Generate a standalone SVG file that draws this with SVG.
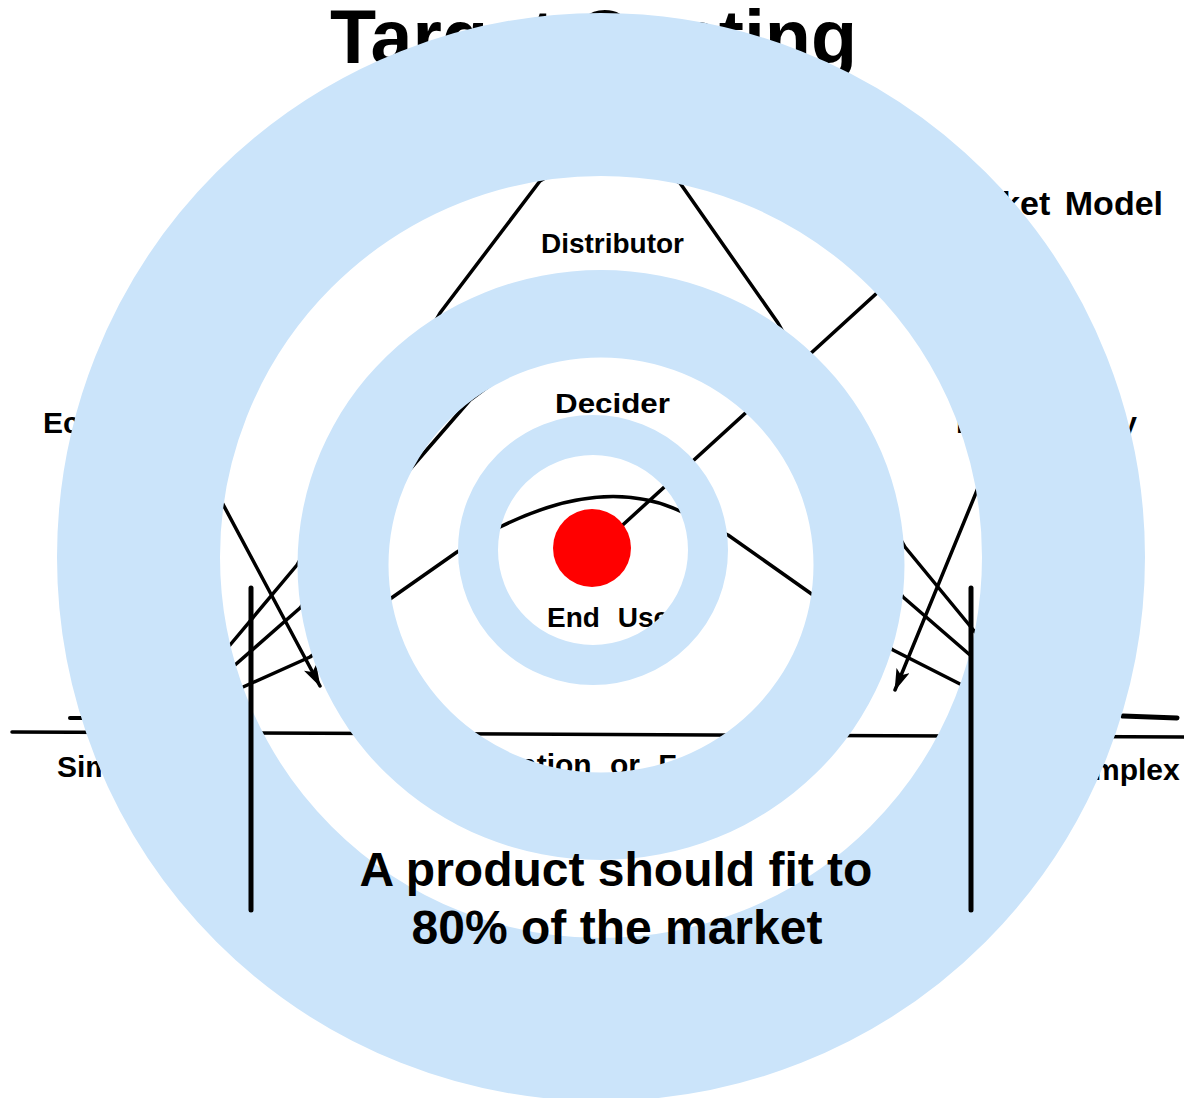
<svg xmlns="http://www.w3.org/2000/svg" width="1184" height="1098" viewBox="0 0 1184 1098">
<defs>
<style>
.sk{fill:none;stroke:#000;stroke-width:3.5;stroke-linecap:round;stroke-linejoin:round}
.lbl{font-family:"Liberation Sans",Arial,sans-serif;font-weight:bold;fill:#000;word-spacing:10px}
.ring{fill:#cbe4fa;fill-rule:evenodd}
.cap{font-family:"Liberation Sans",Arial,sans-serif;font-weight:bold;font-size:48px;fill:#000;text-anchor:middle}
.vline{stroke:#000;stroke-width:5;stroke-linecap:round}
</style>
<marker id="ah" viewBox="0 0 22 14" refX="21" refY="7" markerWidth="22" markerHeight="14" orient="auto" markerUnits="userSpaceOnUse">
<path d="M0,0 L22,7 L0,14 L5,7 Z" fill="#000"/>
</marker>
</defs>
<rect width="1184" height="1098" fill="#fff"/>
<g id="sketch">
<text id="title" x="330" y="63" style="font-family:'Liberation Sans',Arial,sans-serif;font-weight:bold;font-size:75.5px">Target Costing</text>
<g id="curves">
<path class="sk" id="distributor-curve" d="M190,670 L230,645 L297,565 L440,313 L540,181 L610,140 L680,183 L778,323 L905,547 L975,632 L1015,655"/>
<path class="sk" id="decider-curve" d="M195,695 L235,665 L300,608 L392,490 L470,400 L605,300 L748,400 L826,490 L903,597 L970,655 L1008,676"/>
<path class="sk" id="enduser-curve" d="M200,705 L243,687 L310,657 L390,599 L457,552 L500,527 Q605,475 682,512 L728,535 L813,595 L893,650 L962,685 L1000,700"/>
<path class="sk" d="M935,240 L615,532"/>
<path class="sk" d="M146,360 L320,686" marker-end="url(#ah)"/>
<path class="sk" d="M1010,410 L895,690" marker-end="url(#ah)"/>
<path class="sk" d="M12,732 L1184,737"/>
<path class="sk" style="stroke-width:4" d="M70,718 L83,718"/>
<path class="sk" style="stroke-width:5" d="M1123,716 L1177,718"/>
</g>
<g id="labels">
<text class="lbl" x="541" y="253" font-size="28" textLength="143" lengthAdjust="spacingAndGlyphs">Distributor</text>
<text class="lbl" x="555" y="413" font-size="28" textLength="115" lengthAdjust="spacingAndGlyphs">Decider</text>
<text class="lbl" x="547" y="627" font-size="28">End User</text>
<text class="lbl" x="1163" y="215" font-size="34" text-anchor="end" style="word-spacing:5px">Market Model</text>
<text class="lbl" x="43" y="433" font-size="30">Ec</text>
<text class="lbl" x="956" y="433" font-size="30" textLength="181" lengthAdjust="spacing">Luxury</text>
<text class="lbl" x="57" y="777" font-size="30">Simple</text>
<text class="lbl" x="1053" y="780" font-size="30">Complex</text>
<text class="lbl" x="520" y="775" font-size="30">ation or F</text>
</g>
</g>
<g id="rings">
<circle id="outer-ring" cx="601" cy="557" r="462.5" fill="none" stroke="#cbe4fa" stroke-width="163"/>
<path id="middle-ring" class="ring" d="M297.5,565 A303.5,295 0 1 0 904.5,565 A303.5,295 0 1 0 297.5,565 Z M388.5,565 A212.5,207.5 0 1 0 813.5,565 A212.5,207.5 0 1 0 388.5,565 Z"/>
<circle id="inner-ring" cx="593" cy="550" r="115" fill="none" stroke="#cbe4fa" stroke-width="40"/>
</g>
<circle id="bullseye" cx="592" cy="548" r="39" fill="#ff0000"/>
<g id="limits">
<line class="vline" x1="251" y1="588" x2="251" y2="910"/>
<line class="vline" x1="971" y1="588" x2="971" y2="910"/>
</g>
<g id="caption">
<text class="cap" x="616" y="886">A product should fit to</text>
<text class="cap" x="617" y="944">80% of the market</text>
</g>
</svg>
